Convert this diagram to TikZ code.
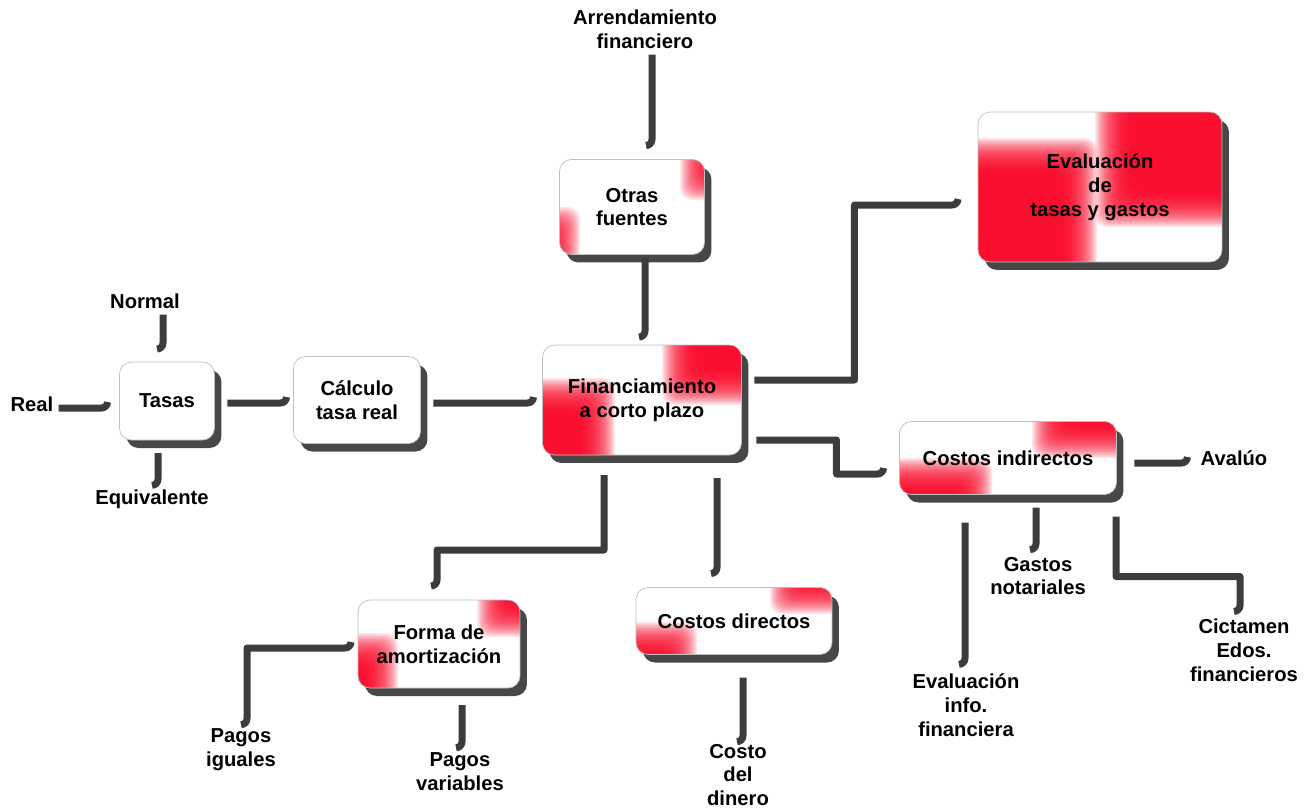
\documentclass[tikz,border=0pt]{standalone}
\usepackage{fontspec}
\setmainfont{Liberation Sans}
\usetikzlibrary{calc}
\usetikzlibrary{positioning}
\usetikzlibrary{shadows}
\definecolor{patchred}{RGB}{250,0,35}
\definecolor{linkgray}{RGB}{60,60,60}
\newcommand\hookdn{arc[start angle=0,end angle=-90,radius=0.12cm]}
\newcommand\hookup{arc[start angle=-90,end angle=0,radius=0.12cm]}
% red corners, soft edges: top right patch (#1,#2), bottom left patch (#3,#4)
\newcommand\redpatch[4]{%
	\foreach \k in {0,...,23}{%
		\fill[patchred,opacity=.1] ($(path picture bounding box.center)+(#1+\k*1.5,#2+\k*1.5)$) rectangle ++(300,300);
		\fill[patchred,opacity=.1] ($(path picture bounding box.center)+(#3-\k*1.5,#4-\k*1.5)$) rectangle ++(-300,-300);
	}}
\tikzset{
	box/.style={
		rectangle, 
		rounded corners=0.24cm, 
		draw=black!25, 
		fill=white,
		drop shadow={shadow xshift=0.14cm, shadow yshift=-0.16cm, fill=black!80, opacity=.9},
		align=center,
		inner sep=2pt, outer sep=0pt},
	leaf/.style={align=center, inner sep=3pt, outer sep=0pt},
	link/.style={draw=linkgray, line width=0.14cm, line join=round},
}

\begin{document}
\begin{tikzpicture}
	[x=0.02cm, y=0.02cm,
	font=\bfseries\fontsize{11.5}{13.6}\selectfont]
	\useasboundingbox (0,0) rectangle (1311,-809);
	
	\node[box, minimum width=2.9cm, minimum height=1.9cm, path picture={\redpatch{48}{7}{-52}{0}}] (fuentes) at (632,-207) {Otras\\fuentes};
	\node[box, minimum width=3.98cm, minimum height=2.2cm, path picture={\redpatch{20}{-5}{-27}{22}}] (fin) at (642,-400) {Financiamiento\\a corto plazo};
	\node[box, minimum width=4.88cm, minimum height=3cm, path picture={\redpatch{-5}{-40}{-3}{49}}] (evaltasas) at (1100,-187) {Evaluación\\de\\tasas y gastos};
	\node[box, minimum width=1.9cm, minimum height=1.56cm] (tasas) at (167,-401) {Tasas};
	\node[box, minimum width=2.54cm, minimum height=1.74cm] (calculo) at (357,-400) {Cálculo\\tasa real};
	\node[box, minimum width=4.34cm, minimum height=1.46cm, path picture={\redpatch{24}{0}{-16}{0}}] (indirectos) at (1008,-458) {Costos indirectos};
	\node[box, minimum width=3.24cm, minimum height=1.76cm, path picture={\redpatch{38}{7}{-41}{11}}] (amort) at (439,-644) {Forma de\\amortización};
	\node[box, minimum width=3.92cm, minimum height=1.34cm, path picture={\redpatch{36}{7}{-37}{-1}}] (directos) at (734,-621) {Costos directos};
	
	\node[leaf] (arrend) at (645,-29) {Arrendamiento\\financiero};
	\node[leaf] (normal) at (145,-301) {Normal};
	\node[leaf] (real) at (32,-404) {Real};
	\node[leaf] (equiv) at (152,-499) {Equivalente};
	\node[leaf] (iguales) at (241,-750) {Pagos\\iguales};
	\node[leaf] (variables) at (460,-772) {Pagos\\variables};
	\node[leaf] (dinero) at (738,-775) {Costo\\del\\dinero};
	\node[leaf] (avaluo) at (1234,-458) {Avalúo};
	\node[leaf] (notariales) at (1038,-576) {Gastos\\notariales};
	\node[leaf] (evalinfo) at (966,-705) {Evaluación\\info.\\financiera};
	\node[leaf] (dictamen) at (1244,-650) {Cictamen\\Edos.\\financieros};
	
	\draw[link] ($(arrend.south)+(7,-1)$) -- ($(fuentes.north)+(20,20)$) \hookdn;
	\draw[link] ($(fuentes.south)+(13,-4)$) -- ($(fin.north)+(3,14)$) \hookdn;
	\draw[link] ($(fin.east)+(13,20)$) -- ++(100,0) |- ($(evaltasas.west)+(-26,-18)$) \hookup;
	\draw[link] ($(fin.east)+(15,-40)$) -- ++(80,0) |- ($(indirectos.west)+(-22,-16)$) \hookup;
	\draw[link] ($(fin.south)+(-38,-20)$) -- ++(0,-75) -| ($(amort.north)+(-2,20)$) \hookdn;
	\draw[link] ($(fin.south)+(75,-23)$) -- ($(directos.north)+(-17,20)$) \hookdn;
	\draw[link] ($(calculo.east)+(13,-3)$) -- ($(fin.west)+(-15,-3)$) \hookup;
	\draw[link] ($(tasas.east)+(13,-2)$) -- ($(calculo.west)+(-13,-3)$) \hookup;
	\draw[link] ($(real.east)+(0,-4)$) -- ($(tasas.west)+(-18,-7)$) \hookup;
	\draw[link] ($(normal.south)+(18,-1)$) -- ($(tasas.north)+(-4,19)$) \hookdn;
	\draw[link] ($(tasas.south)+(-9,-13)$) -- ($(equiv.north)+(6,5)$) \hookdn;
	\draw[link] ($(amort.west)+(-7,2)$) \hookdn -| ($(iguales.north)+(6,5)$) \hookdn;
	\draw[link] ($(amort.south)+(23,-17)$) -- ($(variables.north)+(2,6)$) \hookdn;
	\draw[link] ($(directos.south)+(9,-23)$) -- ($(dinero.north)+(5,3)$) \hookdn;
	\draw[link] ($(indirectos.east)+(18,-5)$) -- ($(avaluo.west)+(-14,-5)$) \hookup;
	\draw[link] ($(indirectos.south)+(28,-13)$) -- ($(notariales.north)+(-2,8)$) \hookdn;
	\draw[link] ($(indirectos.south)+(-43,-28)$) -- ($(evalinfo.north)+(-1,10)$) \hookdn;
	\draw[link] ($(indirectos.south)+(108,-22)$) -- ++(0,-60) -| ($(dictamen.north)+(-4,8)$) \hookdn;
	
\end{tikzpicture}
\end{document}
